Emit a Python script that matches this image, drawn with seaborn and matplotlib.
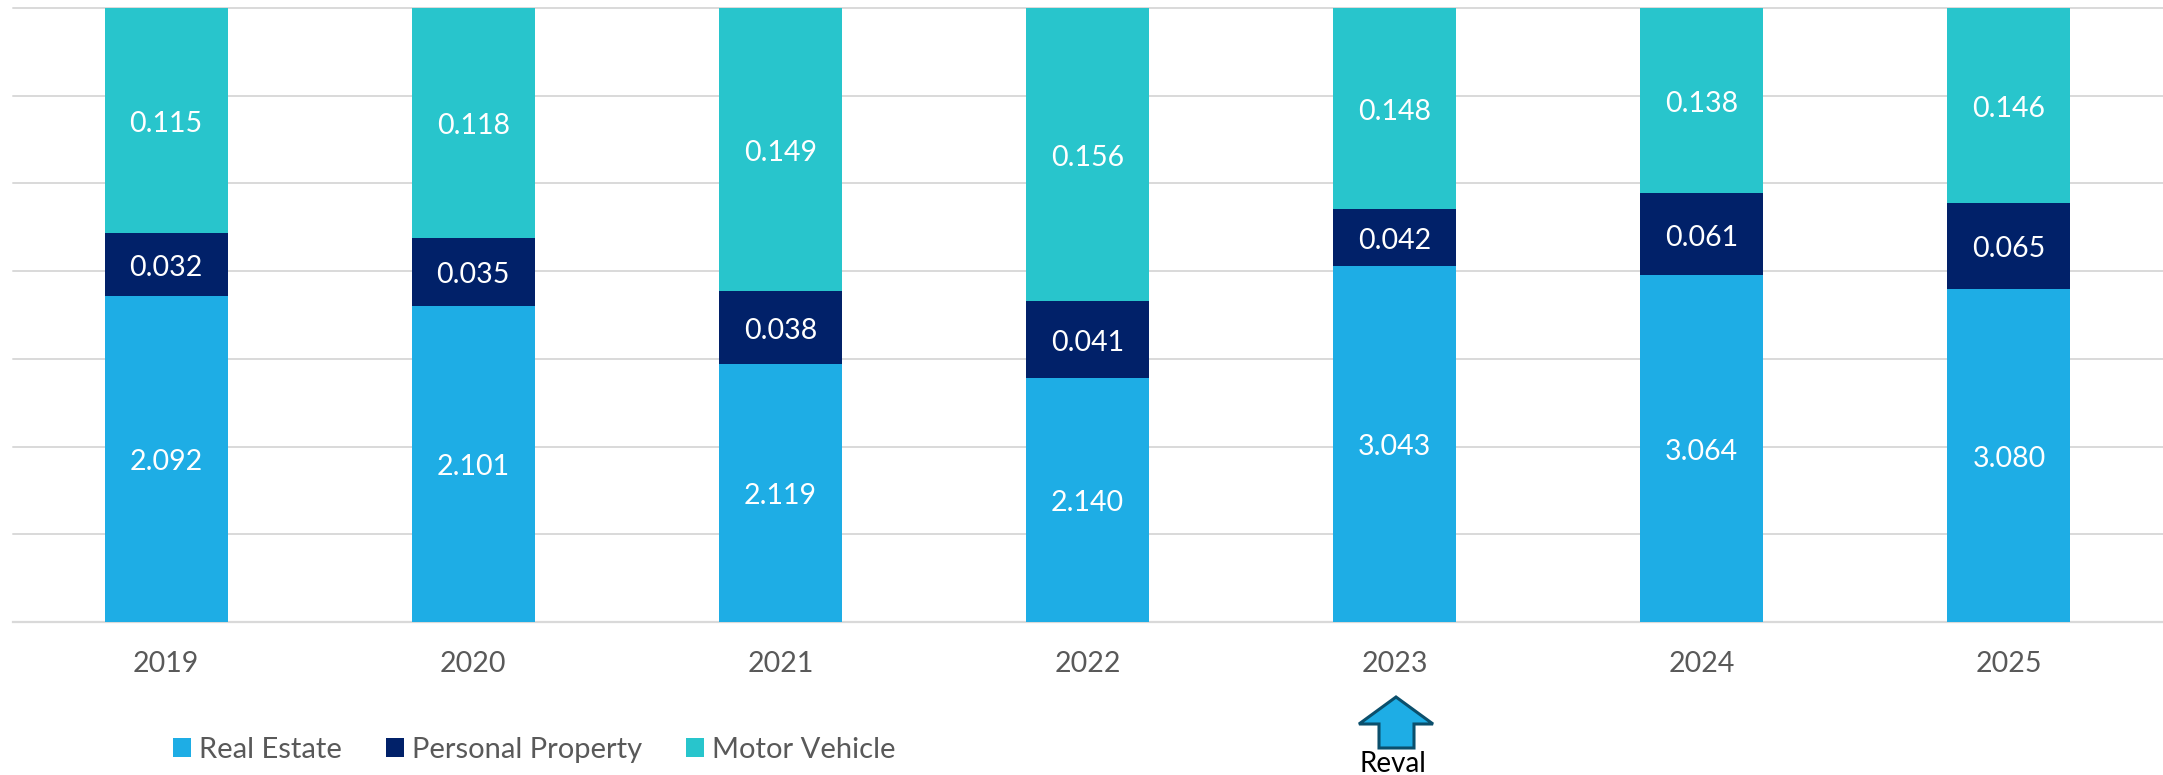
"""Composicion del impuesto: barras apiladas al 100 % con eje truncado."""

import matplotlib

matplotlib.use("Agg")

import matplotlib.pyplot as plt
import numpy as np
import seaborn as sns
from matplotlib.patches import Polygon

years = ["2019", "2020", "2021", "2022", "2023", "2024", "2025"]
real_estate = [2.092, 2.101, 2.119, 2.140, 3.043, 3.064, 3.080]
personal_property = [0.032, 0.035, 0.038, 0.041, 0.042, 0.061, 0.065]
motor_vehicle = [0.115, 0.118, 0.149, 0.156, 0.148, 0.138, 0.146]
series_names = ["Real Estate", "Personal Property", "Motor Vehicle"]
series_colors = ["#1EADE5", "#012169", "#28C5CC"]
y_ticks = [86, 88, 90, 92, 94, 96, 98, 100]

W, H = 2163, 775
GREY = "#595959"
ARROW_X = [1396, 1433, 1414, 1414, 1379, 1379, 1359]
ARROW_Y = [697, 724, 724, 748, 748, 724, 724]

sns.set_theme(style="whitegrid")
plt.rcParams["font.family"] = ["Lato", "DejaVu Sans"]

fig = plt.figure(figsize=(W / 100, H / 100), dpi=100, facecolor="white")
ax = fig.add_axes([12.5 / W, 1 - 622 / H, 2150 / W, 614 / H])

values = np.array([real_estate, personal_property, motor_vehicle])
shares = values / values.sum(axis=0) * 100
y_min, y_max = y_ticks[0], y_ticks[-1]

bottom = np.zeros(len(years))
for name, color, share, raw in zip(series_names, series_colors, shares, values):
    sns.barplot(x=years, y=share, bottom=bottom, color=color, width=0.4,
                saturation=1, label=name, ax=ax, zorder=3, linewidth=0, legend=False)
    for i, val in enumerate(raw):
        mid = (max(bottom[i], y_min) + bottom[i] + share[i]) / 2
        ax.annotate(f"{val:.3f}", (i, mid), xytext=(0, -2.5), textcoords="offset points",
                    color="white", fontsize=20.5, ha="center", va="center", zorder=4)
    bottom = bottom + share

handles, labels = ax.get_legend_handles_labels()
if ax.get_legend() is not None:
    ax.get_legend().remove()

ax.set_xlim(-0.5, 6.5)
ax.set_ylim(y_min, y_max)
ax.set_yticks(y_ticks)
ax.set_yticklabels([])
ax.grid(axis="x", visible=False)
ax.grid(axis="y", color="#D9D9D9", linewidth=1.4, clip_on=False)
ax.set_axisbelow(True)
sns.despine(ax=ax, left=True, top=True, right=True)
ax.spines["bottom"].set_color("#D9D9D9")
ax.spines["bottom"].set_linewidth(1.6)
ax.tick_params(axis="x", length=0, pad=21, labelsize=20.5, labelcolor=GREY)
ax.tick_params(axis="y", length=0)

fig.legend(handles, labels, ncols=3, loc="center left",
           bbox_to_anchor=(173 / W, 1 - 750 / H), frameon=False, fontsize=21,
           labelcolor=GREY, handlelength=0.62, handleheight=0.62,
           handletextpad=0.28, columnspacing=1.5, borderpad=0, borderaxespad=0)

# flecha de revaluacion, en pixeles de la figura
arrow_xy = np.column_stack([np.array(ARROW_X) / W, 1 - np.array(ARROW_Y) / H])
fig.add_artist(Polygon(arrow_xy, closed=True, transform=fig.transFigure,
                       facecolor="#1EADE5", edgecolor="#0B4F6C", linewidth=2.2))
fig.text(1393 / W, 1 - 772 / H, "Reval", color="black", fontsize=20,
         ha="center", va="baseline")

fig.savefig("out.png", dpi=100)
